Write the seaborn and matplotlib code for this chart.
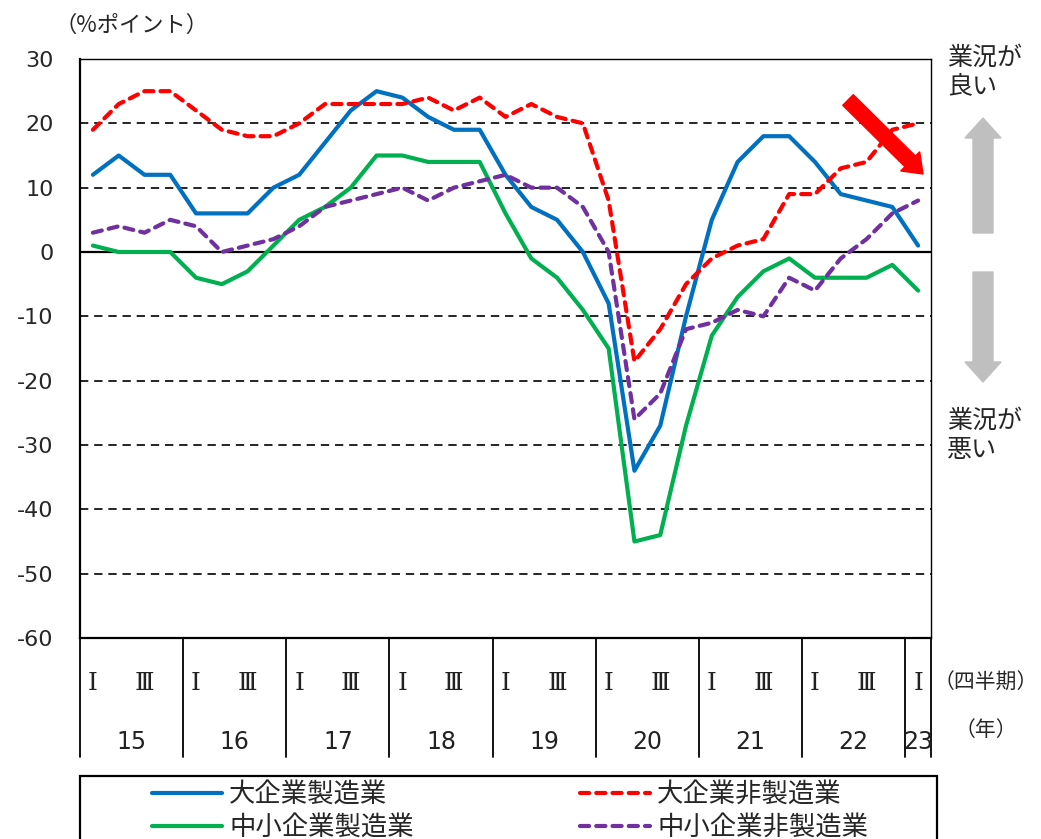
import numpy as np
import pandas as pd
import matplotlib.pyplot as plt
import seaborn as sns
from matplotlib.patches import FancyArrow, Rectangle
from matplotlib.transforms import IdentityTransform, blended_transform_factory

# 2015 Q1 - 2023 Q1, quarterly
years = ["15", "16", "17", "18", "19", "20", "21", "22", "23"]
quarter_marks = ["Ⅰ", "", "Ⅲ", ""]

large_mfg = [12, 15, 12, 12, 6, 6, 6, 10, 12, 17, 22, 25, 24, 21, 19, 19,
             12, 7, 5, 0, -8, -34, -27, -10, 5, 14, 18, 18, 14, 9, 8, 7, 1]
large_nonmfg = [19, 23, 25, 25, 22, 19, 18, 18, 20, 23, 23, 23, 23, 24, 22, 24,
                21, 23, 21, 20, 8, -17, -12, -5, -1, 1, 2, 9, 9, 13, 14, 19, 20]
small_mfg = [1, 0, 0, 0, -4, -5, -3, 1, 5, 7, 10, 15, 15, 14, 14, 14,
             6, -1, -4, -9, -15, -45, -44, -27, -13, -7, -3, -1, -4, -4, -4, -2, -6]
small_nonmfg = [3, 4, 3, 5, 4, 0, 1, 2, 4, 7, 8, 9, 10, 8, 10, 11,
                12, 10, 10, 7, 0, -26, -22, -12, -11, -9, -10, -4, -6, -1, 2, 6, 8]

series = [
    ("大企業製造業", large_mfg, "#0070C0", "-"),
    ("中小企業製造業", small_mfg, "#00B050", "-"),
    ("大企業非製造業", large_nonmfg, "#FF0000", (0, (2.2, 1.7))),
    ("中小企業非製造業", small_nonmfg, "#7030A0", (0, (2.2, 1.7))),
]

sns.set_style("white")
plt.rcParams['font.family'] = ['Noto Sans CJK JP', 'DejaVu Sans']
plt.rcParams['axes.unicode_minus'] = False

W, H = 1041, 839
fig = plt.figure(figsize=(W / 100, H / 100), dpi=100)
ax = fig.add_axes([80 / W, 1 - 638 / H, 851 / W, 579 / H])

q = np.arange(len(large_mfg))
for name, vals, col, ls in series:
    sns.lineplot(x=q, y=vals, color=col, lw=3, linestyle=ls, label=name,
                 dash_capstyle='round', ax=ax, zorder=3)

ax.set_xlim(-0.5, len(q) - 0.5)
ax.set_ylim(-60, 30)
ax.set_yticks(range(-60, 31, 10))
ax.set_xticks([])
ax.set_xlabel("")
ax.set_ylabel("")
ax.tick_params(axis='y', length=0, pad=19, labelsize=16)
for t in ax.get_yticklabels():
    t.set_fontfamily('DejaVu Sans')

for v in range(-50, 30, 10):
    if v == 0:
        ax.axhline(v, color='black', lw=1.6, zorder=2)
    else:
        ax.axhline(v, color='black', lw=1.2, ls=(0, (5, 3.5)), zorder=1)

for side in ['left', 'bottom']:
    ax.spines[side].set_color('black')
    ax.spines[side].set_linewidth(1.6)
for side in ['top', 'right']:
    ax.spines[side].set_color('black')
    ax.spines[side].set_linewidth(1.0)

# category table under the plot
tr = blended_transform_factory(ax.transData, ax.transAxes)
tbl_bottom = -(757 - 638) / 579
bounds = [-0.5 + 4 * k for k in range(len(years))] + [len(q) - 0.5]
for b in bounds:
    ax.plot([b, b], [0, tbl_bottom], color='black', lw=1.3,
            transform=tr, clip_on=False)
for i in q:
    m = quarter_marks[i % 4]
    if m:
        ax.text(i, -(683 - 638) / 579, m, transform=tr, ha='center', va='center',
                fontsize=18, family=['DejaVu Serif', 'Noto Sans CJK JP'],
                color='#222222')
for k, yr in enumerate(years):
    idx = q[(q // 4) == k]
    ax.text(idx.mean(), -(742 - 638) / 579, yr, transform=tr, ha='center',
            va='center', fontsize=17, family='DejaVu Sans', color='#222222')

fig.text(986 / W, 1 - 683 / H, "（四半期）", ha='center', va='center', fontsize=15)
fig.text(986 / W, 1 - 730 / H, "（年）", ha='center', va='center', fontsize=15)
fig.text(132 / W, 1 - 25 / H, "（%ポイント）", ha='center', va='center', fontsize=16)
fig.text(947 / W, 1 - 72 / H, "業況が\n良い", ha='left', va='center',
         fontsize=18, linespacing=1.15)
fig.text(947 / W, 1 - 435 / H, "業況が\n悪い", ha='left', va='center',
         fontsize=18, linespacing=1.15)

# arrows (figure pixels)
px = IdentityTransform()
fig.add_artist(FancyArrow(983, H - 233, 0, 233 - 118, width=20, head_width=36,
                          head_length=20, length_includes_head=True,
                          color='#BFBFBF', transform=px))
fig.add_artist(FancyArrow(983, H - 272, 0, -(382 - 272), width=20, head_width=36,
                          head_length=20, length_includes_head=True,
                          color='#BFBFBF', transform=px))
fig.add_artist(FancyArrow(848, H - 100, 75, -74, width=15, head_width=27,
                          head_length=18, length_includes_head=True,
                          color='#FF0000', transform=px, zorder=5))

# legend
handles, labels = ax.get_legend_handles_labels()
ax.get_legend().remove()
fig.add_artist(Rectangle((80, -20), 857, H - 776 + 20, fill=False,
                         edgecolor='black', lw=1.6, transform=px))
fig.legend(handles, labels, ncol=2, loc='upper left', frameon=False,
           bbox_to_anchor=(152 / W, 1 - 781 / H), fontsize=19,
           handlelength=2.65, handletextpad=0.27, columnspacing=6.3,
           labelspacing=0.22, borderpad=0, borderaxespad=0)

fig.savefig("out.png", dpi=100)
